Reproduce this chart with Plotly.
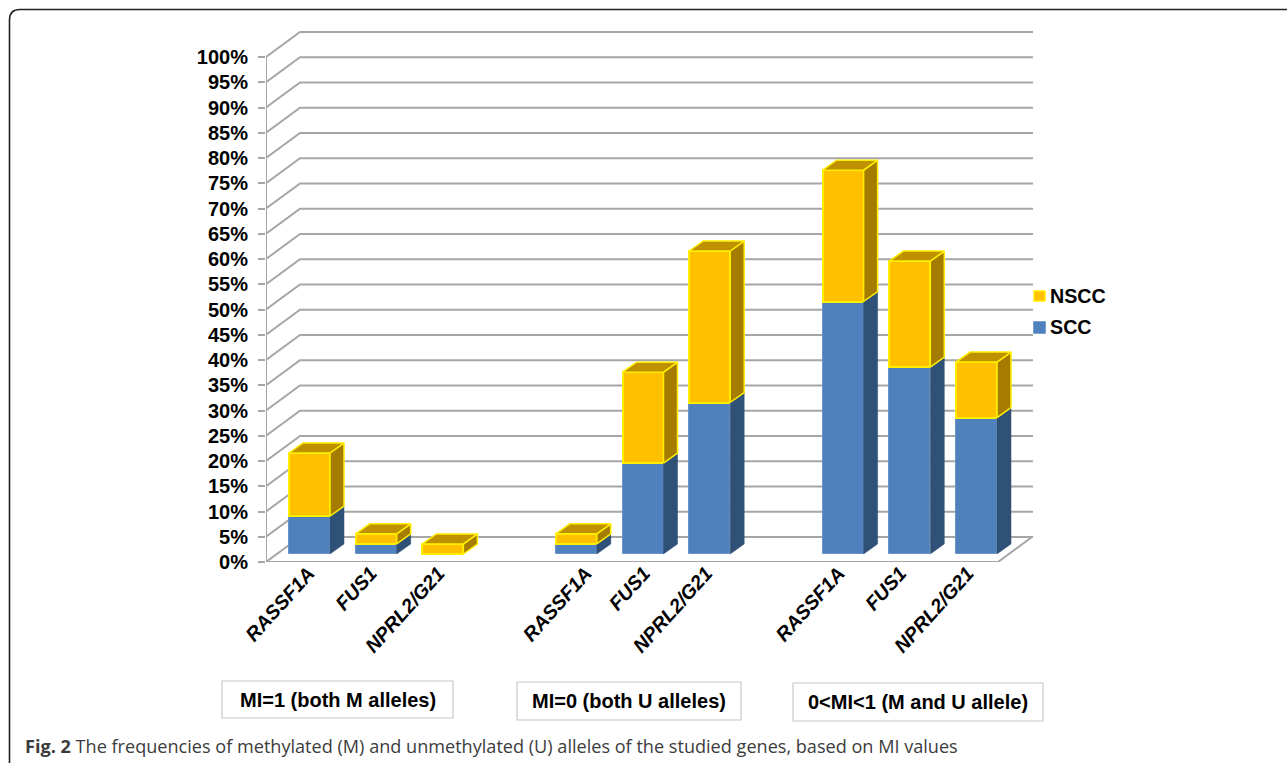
import plotly.graph_objects as go

# ---- data (percent of samples) ----
GROUP_LABELS = ["MI=1 (both M alleles)", "MI=0 (both U alleles)", "0<MI<1 (M and U allele)"]
GENES = ["RASSF1A", "FUS1", "NPRL2/G21", "RASSF1A", "FUS1", "NPRL2/G21", "RASSF1A", "FUS1", "NPRL2/G21"]
SLOTS = [0, 1, 2, 4, 5, 6, 8, 9, 10]
SCC = [7.5, 2, 0, 2, 18, 30, 50, 37, 27]
NSCC = [12.5, 2, 2, 2, 18, 30, 26, 21, 11]
Y_TICKS = list(range(0, 105, 5))
Y_TICK_TEXT = [f"{v}%" for v in Y_TICKS]
CAPTION_BOLD = "Fig. 2"
CAPTION = "The frequencies of methylated (M) and unmethylated (U) alleles of the studied genes, based on MI values"

# ---- layout geometry ----
W, H = 1287, 763
L, R, T, B = 266, 1033, 31, 562
SLOT_PX = 66.7
PCT_PX = 5.05
FLOOR_END = (998 - L) / SLOT_PX
FLOOR_DX, FLOOR_DY = 34 / SLOT_PX, 25 / PCT_PX      # depth of the floor
BAR_DX, BAR_DY = 14 / SLOT_PX, 10 / PCT_PX          # depth of a bar
BAR_W = 41 / SLOT_PX
BAR_X0 = 23 / SLOT_PX                               # inset of a bar in its slot
BAR_Y0 = 8 / PCT_PX                                 # bars stand in on the floor
LABEL_NUDGE_PX = [-1.5, -6, -5, 9, 0.5, -4, -5, -10, -9.5]  # hand-placed gene labels
GRID = "#a6a6a6"
YEL = "#ffee00"
C_SCC, C_SCC_SIDE = "#4f81bd", "#2f5077"
C_NSCC, C_NSCC_SIDE, C_NSCC_TOP = "#ffc000", "#a67c00", "#bf9000"
FONT = "Liberation Sans"

fig = go.Figure()

lefts = [s + BAR_X0 for s in SLOTS]
centers = [x + BAR_W / 2 for x in lefts]
scc_tops = [BAR_Y0 + v for v in SCC]

fig.add_bar(x=centers, y=SCC, base=[BAR_Y0] * len(SCC), width=BAR_W, name="SCC", showlegend=False,
            marker=dict(color=C_SCC, line=dict(color="#6a94c8", width=1)))
fig.add_bar(x=centers, y=NSCC, base=scc_tops, width=BAR_W, name="NSCC", showlegend=False,
            marker=dict(color=C_NSCC, line=dict(color=YEL, width=2)))


def face(xs, ys, fill, line, lw):
    fig.add_scatter(x=xs, y=ys, mode="lines", fill="toself", fillcolor=fill,
                    line=dict(color=line, width=lw), showlegend=False, hoverinfo="skip")


for x0, b, s, n in zip(lefts, scc_tops, SCC, NSCC):
    xr = x0 + BAR_W
    bottom = b - s
    if s > 0:
        face([xr, xr + BAR_DX, xr + BAR_DX, xr, xr], [bottom, bottom + BAR_DY, b + BAR_DY, b, bottom],
             C_SCC_SIDE, C_SCC_SIDE, 0.5)
    top = b + n
    face([xr, xr + BAR_DX, xr + BAR_DX, xr, xr], [b, b + BAR_DY, top + BAR_DY, top, b],
         C_NSCC_SIDE, YEL, 1.5)
    face([x0, x0 + BAR_DX, xr + BAR_DX, xr, x0], [top, top + BAR_DY, top + BAR_DY, top, top],
         C_NSCC_TOP, YEL, 1.5)

# wall and floor gridlines
shapes = []
for v in Y_TICKS:
    shapes.append(dict(type="path", layer="below", line=dict(color=GRID, width=2),
                       path=f"M 0 {v} L {FLOOR_DX} {v + FLOOR_DY} L {(R - L) / SLOT_PX} {v + FLOOR_DY}"))
shapes.append(dict(type="path", layer="below", line=dict(color=GRID, width=2),
                   path=f"M {FLOOR_END} 0 L {FLOOR_END + FLOOR_DX} {FLOOR_DY}"))

# helpers for figure-pixel positions (paper coordinates span the plot area)


def px(x):
    return (x - L) / (R - L)


def py(y):
    return (B - y) / (B - T)


# frame
shapes.append(dict(type="path", xref="paper", yref="paper", layer="below", line=dict(color="#222222", width=1.6),
                   path=f"M {px(9.5)} {py(770)} L {px(9.5)} {py(20)} Q {px(9.5)} {py(9.5)} {px(20)} {py(9.5)} "
                        f"L {px(1287)} {py(9.5)}"))

# legend squares
for y0, y1, col, lc in [(291, 301, C_NSCC, YEL), (322, 333, C_SCC, C_SCC)]:
    shapes.append(dict(type="rect", xref="paper", yref="paper", x0=px(1034), x1=px(1045), y0=py(y1), y1=py(y0),
                       fillcolor=col, line=dict(color=lc, width=1.5)))

annotations = []
for text, y in [("NSCC", 296), ("SCC", 327)]:
    annotations.append(dict(text=text, xref="paper", yref="paper", x=px(1048), y=py(y), xanchor="left", yanchor="middle",
                            showarrow=False, font=dict(family=FONT, size=19.7, color="#000000", weight="bold")))

for text, x0, x1, y0, y1 in zip(GROUP_LABELS, [222, 517, 793], [453, 741, 1043], [681, 682, 683], [718, 720, 721]):
    shapes.append(dict(type="rect", xref="paper", yref="paper", x0=px(x0), x1=px(x1), y0=py(y1), y1=py(y0),
                       line=dict(color="#c8c8c8", width=1.2)))
    annotations.append(dict(text=text, xref="paper", yref="paper", x=px((x0 + x1) / 2), y=py((y0 + y1) / 2),
                            xanchor="center", yanchor="middle", showarrow=False,
                            font=dict(family=FONT, size=20, color="#000000", weight="bold")))

annotations.append(dict(text=f"<b>{CAPTION_BOLD}</b> {CAPTION}", xref="paper", yref="paper", x=px(23), y=py(746),
                        xanchor="left", yanchor="middle", showarrow=False,
                        font=dict(family="Open Sans", size=18.1, color="#3c3c3c")))

fig.update_layout(
    width=W, height=H, margin=dict(l=L, r=W - R, t=T, b=H - B), autosize=False,
    paper_bgcolor="#ffffff", plot_bgcolor="rgba(0,0,0,0)", barmode="overlay", bargap=0,
    shapes=shapes, annotations=annotations, showlegend=False,
    xaxis=dict(range=[0, (R - L) / SLOT_PX], tickmode="array",
               tickvals=[s + 0.66 + n / SLOT_PX for s, n in zip(SLOTS, LABEL_NUDGE_PX)],
               ticktext=GENES, tickangle=-48, ticks="",
               showgrid=False, zeroline=False, showline=True, linecolor="rgba(0,0,0,0)",
               ticklabelstandoff=-9,
               tickfont=dict(family=FONT, size=19.7, color="#000000", weight="bold", style="italic")),
    yaxis=dict(range=[0, (B - T) / PCT_PX], tickmode="array", tickvals=Y_TICKS, ticktext=Y_TICK_TEXT,
               ticks="outside", ticklen=7, tickwidth=2, tickcolor=GRID, showgrid=False, zeroline=False,
               ticklabelstandoff=6,
               tickfont=dict(family=FONT, size=20, color="#000000", weight="bold")),
)
fig.add_shape(type="line", xref="x", yref="y", x0=0, x1=0, y0=0, y1=100, layer="below", line=dict(color=GRID, width=2))
fig.add_shape(type="line", xref="x", yref="y", x0=0, x1=FLOOR_END, y0=0, y1=0, layer="below", line=dict(color=GRID, width=2))

fig.write_html("out.html", post_script="document.body.style.margin='0';", config={"displayModeBar": False})
